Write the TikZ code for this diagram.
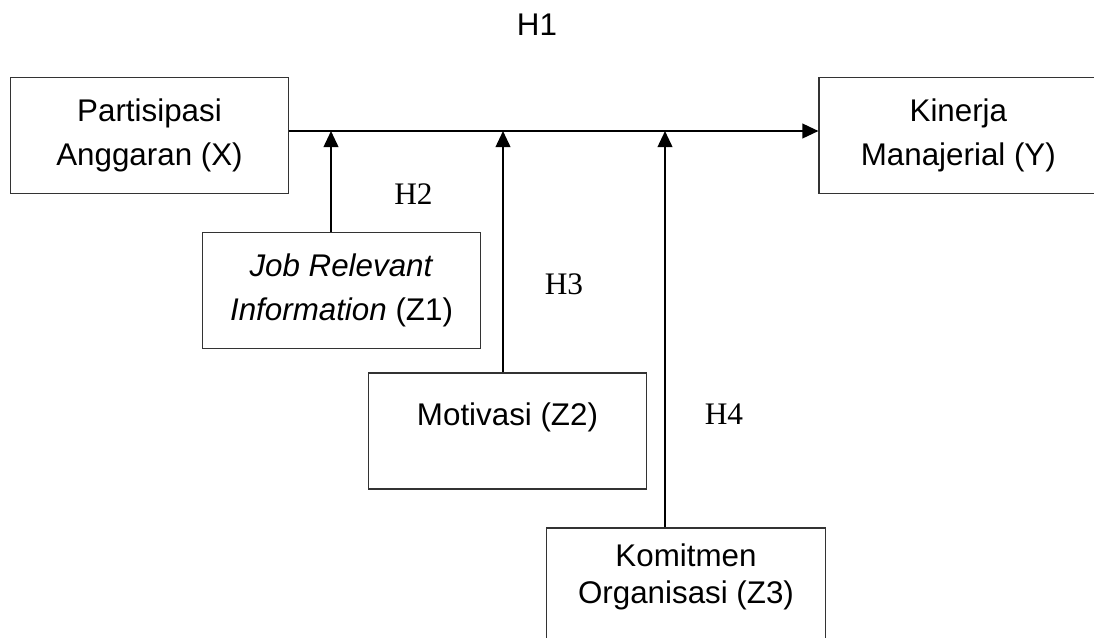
\documentclass[tikz,border=0pt]{standalone}
\usepackage{fontspec}
\setmainfont{Liberation Sans}
\newfontfamily\hfont{Liberation Serif}
\usetikzlibrary{positioning,arrows.meta}
\tikzset{
  varbox/.style={
    draw=black!80,
    line width=0.9pt,
    minimum width=209pt,
    minimum height=87pt,
    align=center,
    inner sep=0pt,
    font=\fontsize{23.5}{33}\selectfont
  },
  hypo/.style={
    font=\hfont\fontsize{23.5}{28}\selectfont
  },
  link/.style={
    -{Triangle[length=12pt,width=11pt]},
    line width=1.3pt
  }
}

\begin{document}
\begin{tikzpicture}[x=0.75pt,y=-0.75pt]
\useasboundingbox (0,0) rectangle (1094,637);

\node[varbox] (x) at (149.5,135.5) {Partisipasi\\Anggaran (X)};
\node[varbox, right=396.75pt of x] (y) {Kinerja\\Manajerial (Y)};

\node[varbox] (z1) at (341.5,290.5) {\textit{Job Relevant}\\\textit{Information} (Z1)};
\node[varbox, text depth=26pt] (z2) at (507.5,431) {Motivasi (Z2)};
\node[varbox, text depth=19pt, font=\fontsize{23.5}{28}\selectfont] (z3) at (686,586) {Komitmen\\Organisasi (Z3)};

% junctions on the main path
\coordinate (j1) at (331,131);
\coordinate (j2) at (503,131);
\coordinate (j3) at (665,131);

\node[font=\fontsize{23.5}{28}\selectfont] (h1) at (537,25) {H1};
\node[hypo] (h2) at (413.5,194.5) {H2};
\node[hypo] (h3) at (564,284) {H3};
\node[hypo] (h4) at (724,414.5) {H4};

\draw[link] (x.east |- j1) -- (y.west |- j1);
\draw[link] (z1.north -| j1) -- (j1);
\draw[link] (z2.north -| j2) -- (j2);
\draw[link] (z3.north -| j3) -- (j3);

\end{tikzpicture}
\end{document}
